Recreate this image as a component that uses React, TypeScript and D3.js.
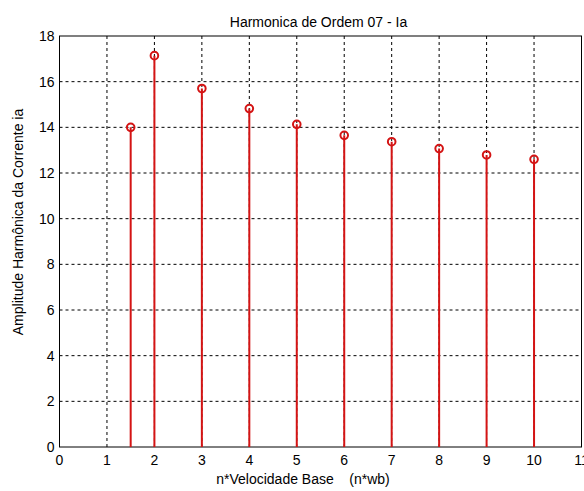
import React from "react";
import * as d3 from "d3";

// Harmonic amplitude of phase current ia for each multiple of base speed
const speeds = [1.5, 2, 3, 4, 5, 6, 7, 8, 9, 10];
const amplitudes = [14.0, 17.14, 15.7, 14.82, 14.13, 13.65, 13.37, 13.07, 12.79, 12.6];
const xTicks = [0, 1, 2, 3, 4, 5, 6, 7, 8, 9, 10, 11];
const yTicks = [0, 2, 4, 6, 8, 10, 12, 14, 16, 18];

const W = 584;
const H = 491;
const margin = { left: 59.5, right: 2.5, top: 36, bottom: 44 };

export default function App() {
  const x = d3.scaleLinear().domain([0, 11]).range([margin.left, W - margin.right]);
  const y = d3.scaleLinear().domain([0, 18]).range([H - margin.bottom, margin.top]);
  const font = "'Liberation Sans', Arial, sans-serif";
  const red = "#d41414";

  return (
    <svg
      width={W}
      height={H}
      style={{ position: "absolute", left: 0, top: 0, background: "#fff" }}
      fontFamily={font}
    >
      <rect x={0} y={0} width={W} height={H} fill="#fff" />
      {/* grid */}
      {xTicks.slice(1, -1).map((t) => (
        <line
          key={"gx" + t}
          x1={x(t)}
          x2={x(t)}
          y1={y(0)}
          y2={y(18)}
          stroke="#000"
          strokeWidth={1}
          strokeDasharray="3,3"
        />
      ))}
      {yTicks.slice(1, -1).map((t) => (
        <line
          key={"gy" + t}
          x1={x(0)}
          x2={x(11)}
          y1={y(t)}
          y2={y(t)}
          stroke="#000"
          strokeWidth={1}
          strokeDasharray="3,3"
        />
      ))}
      {/* axes box */}
      <rect
        x={x(0)}
        y={y(18)}
        width={x(11) - x(0)}
        height={y(0) - y(18)}
        fill="none"
        stroke="#000"
        strokeWidth={1}
      />
      {/* stems */}
      {speeds.map((s, i) => (
        <g key={"s" + i}>
          <line
            x1={x(s)}
            x2={x(s)}
            y1={y(0)}
            y2={y(amplitudes[i])}
            stroke={red}
            strokeWidth={2}
          />
          <circle
            cx={x(s)}
            cy={y(amplitudes[i])}
            r={3.8}
            fill="none"
            stroke={red}
            strokeWidth={2}
          />
        </g>
      ))}
      {/* tick labels */}
      {xTicks.map((t) => (
        <text
          key={"tx" + t}
          x={x(t)}
          y={y(0) + 18}
          fontSize={14}
          textAnchor="middle"
          fill="#000"
        >
          {t}
        </text>
      ))}
      {yTicks.map((t) => (
        <text
          key={"ty" + t}
          x={x(0) - 5}
          y={y(t) + 5}
          fontSize={14}
          textAnchor="end"
          fill="#000"
        >
          {t}
        </text>
      ))}
      {/* titles */}
      <text x={(x(0) + x(11)) / 2 - 2} y={27} fontSize={14} textAnchor="middle" fill="#000">
        Harmonica de Ordem 07 - Ia
      </text>
      <text
        x={303}
        y={H - 7}
        fontSize={14}
        textAnchor="middle"
        fill="#000"
        style={{ whiteSpace: "pre" }}
        xmlSpace="preserve"
      >
        {"n*Velocidade Base    (n*wb)"}
      </text>
      <text
        transform={`translate(23, 222) rotate(-90)`}
        fontSize={14}
        textAnchor="middle"
        fill="#000"
      >
        Amplitude Harmônica da Corrente ia
      </text>
    </svg>
  );
}
